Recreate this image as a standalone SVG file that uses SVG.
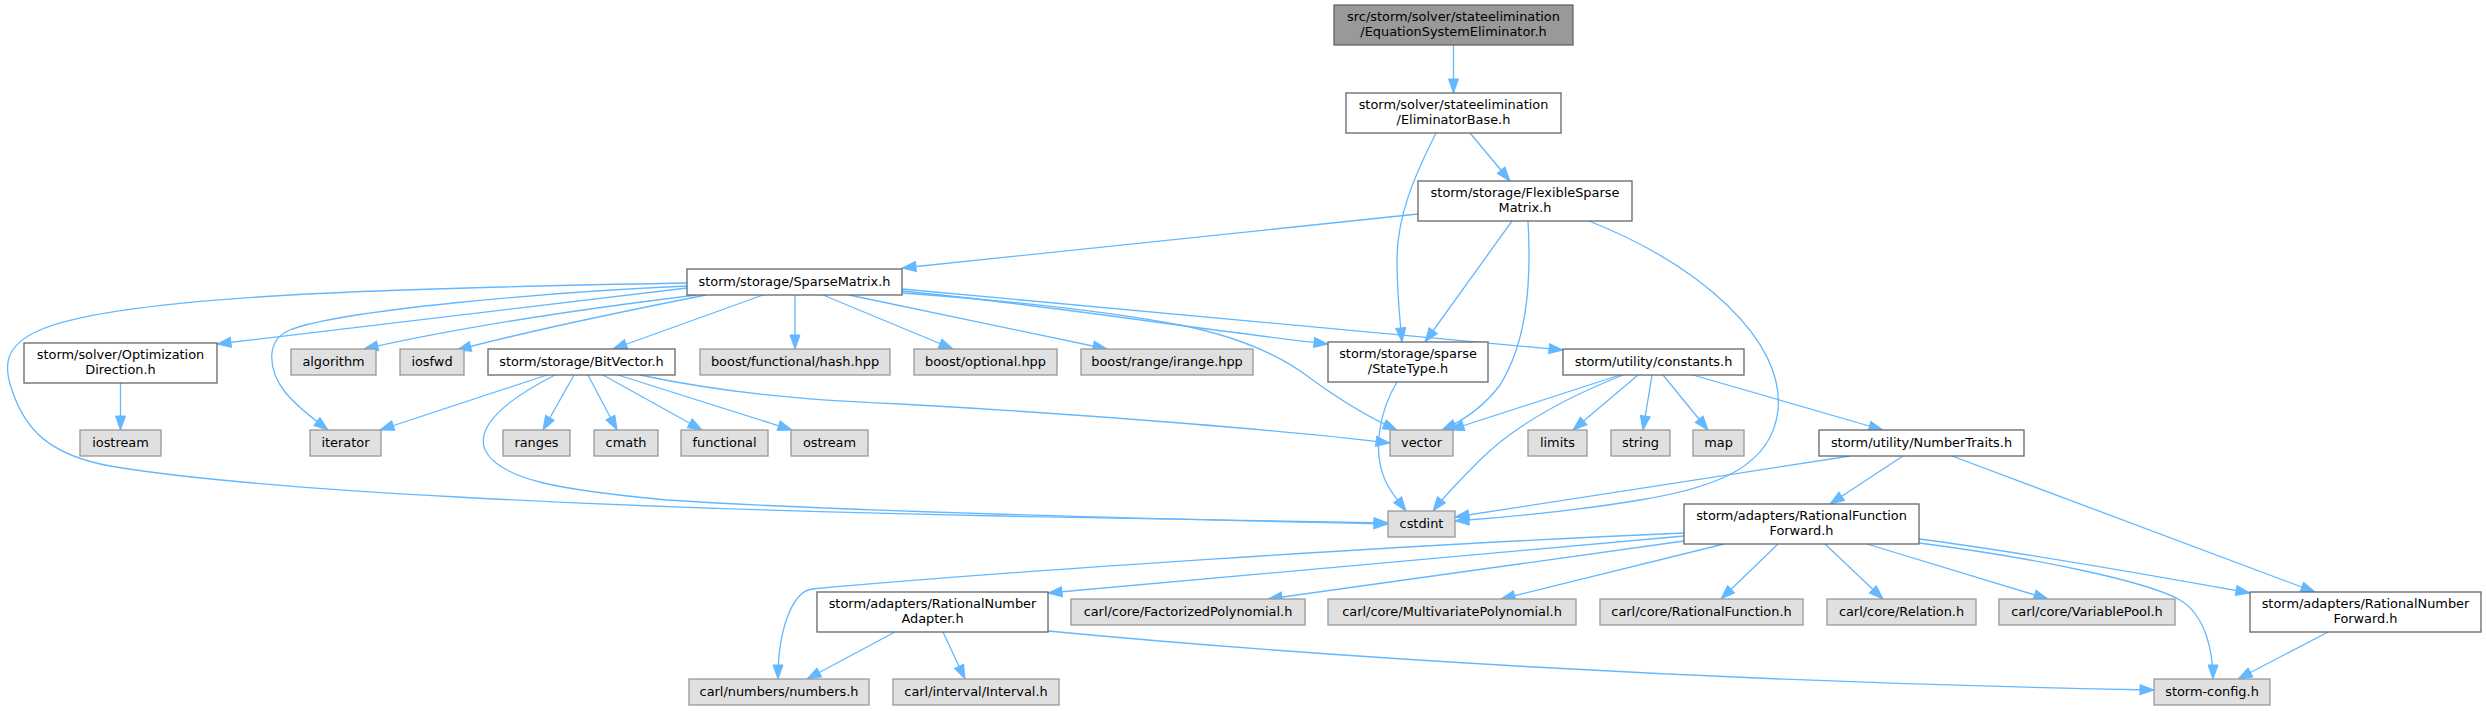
<svg xmlns="http://www.w3.org/2000/svg" width="2486" height="711" viewBox="0 0 2486 711">
<style>
.e{fill:none;stroke:#63b8ff;stroke-width:1.3;marker-end:url(#a)}
.w rect{fill:#ffffff;stroke:#666666;stroke-width:1.3}
.g rect{fill:#e0e0e0;stroke:#999999;stroke-width:1.3}
.t rect{fill:#999999;stroke:#666666;stroke-width:1.3}
text{font-family:"DejaVu Sans","Liberation Sans",sans-serif;font-size:12.9px;text-anchor:middle;fill:#000000}
</style>
<defs>
<marker id="a" markerUnits="userSpaceOnUse" markerWidth="16" markerHeight="12" refX="14" refY="5" orient="auto" overflow="visible">
<path d="M0,0 L14,5 L0,10 z" fill="#63b8ff" stroke="#63b8ff" stroke-width="1"/>
</marker>
</defs>
<rect width="2486" height="711" fill="#ffffff"/>
<g id="edges">
<path class="e" d="M1453.5,45 L1453.5,93"/>
<path class="e" d="M1470,133 L1510,181"/>
<path class="e" d="M1436,133 C1415,175 1397,215 1397,260 C1397,295 1400,320 1402,342"/>
<path class="e" d="M1418,214 L902,268"/>
<path class="e" d="M1512,221 L1425,342"/>
<path class="e" d="M1528,221 C1532,290 1525,345 1500,385 C1485,405 1465,420 1442,430"/>
<path class="e" d="M1589,221 C1700,265 1785,340 1778,410 C1772,465 1720,487 1640,500 C1580,510 1510,517 1455,521"/>
<path class="e" d="M687,288 L217,344"/>
<path class="e" d="M697,295 C590,308 470,325 364,349"/>
<path class="e" d="M706,295 C630,310 540,328 457,350"/>
<path class="e" d="M763,295 L613,349"/>
<path class="e" d="M795,295 L795,349"/>
<path class="e" d="M823,295 L953,349"/>
<path class="e" d="M849,295 L1107,349"/>
<path class="e" d="M902,291 C1050,305 1200,330 1328,344"/>
<path class="e" d="M902,289 L1563,350"/>
<path class="e" d="M902,293 C1000,300 1100,310 1180,325 C1240,337 1280,355 1310,378 C1340,400 1370,418 1397,430"/>
<path class="e" d="M687,286 C550,292 340,310 290,330 C265,340 268,370 285,392 C298,408 315,420 328,430"/>
<path class="e" d="M687,283 C400,288 120,295 40,330 C5,345 3,365 12,390 C25,430 50,455 110,466 C250,490 600,508 1000,516 C1200,520 1320,522 1388,523"/>
<path class="e" d="M120.5,383 L120.5,430"/>
<path class="e" d="M547,375 L380,430"/>
<path class="e" d="M574,375 L543,430"/>
<path class="e" d="M588,375 L617,430"/>
<path class="e" d="M603,375 L702,430"/>
<path class="e" d="M618,375 L792,430"/>
<path class="e" d="M640,375 C720,392 800,400 900,404 C1100,415 1300,432 1390,443"/>
<path class="e" d="M555,375 C510,398 475,425 485,450 C500,480 560,490 667,500 C850,512 1150,519 1388,524"/>
<path class="e" d="M1397,382 C1380,410 1372,450 1385,480 C1392,495 1400,503 1406,511"/>
<path class="e" d="M1620,375 L1450,430"/>
<path class="e" d="M1623,375 C1560,400 1510,430 1480,460 C1460,480 1445,495 1433,511"/>
<path class="e" d="M1638,375 L1573,430"/>
<path class="e" d="M1652,375 L1643,430"/>
<path class="e" d="M1663,375 L1708,430"/>
<path class="e" d="M1693,375 L1883,430"/>
<path class="e" d="M1850,456 L1455,517"/>
<path class="e" d="M1903,456 L1830,504"/>
<path class="e" d="M1952,456 L2315,592"/>
<path class="e" d="M1684,536 L1048,593"/>
<path class="e" d="M1684,533 C1400,545 1000,572 812,589 C792,592 778,630 778,679"/>
<path class="e" d="M1684,541 L1268,599"/>
<path class="e" d="M1724,544 L1501,599"/>
<path class="e" d="M1778,544 L1721,599"/>
<path class="e" d="M1825,544 L1883,599"/>
<path class="e" d="M1867,544 L2048,599"/>
<path class="e" d="M1919,543 C2050,560 2150,583 2180,600 C2205,615 2213,650 2213,679"/>
<path class="e" d="M1919,539 C2020,552 2150,575 2250,593"/>
<path class="e" d="M895,632 L807,679"/>
<path class="e" d="M943,632 L965,679"/>
<path class="e" d="M1048,631 C1300,655 1700,682 2154,690"/>
<path class="e" d="M2328,632 L2238,679"/>
</g>
<g id="n0" class="t"><rect x="1334" y="5" width="239" height="40"/><text x="1453.5" y="21">src/storm/solver/stateelimination</text><text x="1453.5" y="36">/EquationSystemEliminator.h</text></g>
<g id="n1" class="w"><rect x="1346" y="93" width="215" height="40"/><text x="1453.5" y="109">storm/solver/stateelimination</text><text x="1453.5" y="124">/EliminatorBase.h</text></g>
<g id="n2" class="w"><rect x="1418" y="181" width="214" height="40"/><text x="1525" y="197">storm/storage/FlexibleSparse</text><text x="1525" y="212">Matrix.h</text></g>
<g id="n3" class="w"><rect x="687" y="269" width="215" height="26"/><text x="794.5" y="285.5">storm/storage/SparseMatrix.h</text></g>
<g id="n4" class="w"><rect x="24" y="343" width="193" height="40"/><text x="120.5" y="359">storm/solver/Optimization</text><text x="120.5" y="374">Direction.h</text></g>
<g id="n5" class="g"><rect x="291" y="349" width="85" height="26"/><text x="333.5" y="365.5">algorithm</text></g>
<g id="n6" class="g"><rect x="400" y="349" width="64" height="26"/><text x="432" y="365.5">iosfwd</text></g>
<g id="n7" class="w"><rect x="488" y="349" width="187" height="26"/><text x="581.5" y="365.5">storm/storage/BitVector.h</text></g>
<g id="n8" class="g"><rect x="700" y="349" width="190" height="26"/><text x="795" y="365.5">boost/functional/hash.hpp</text></g>
<g id="n9" class="g"><rect x="914" y="349" width="143" height="26"/><text x="985.5" y="365.5">boost/optional.hpp</text></g>
<g id="n10" class="g"><rect x="1081" y="349" width="172" height="26"/><text x="1167" y="365.5">boost/range/irange.hpp</text></g>
<g id="n11" class="w"><rect x="1328" y="342" width="160" height="40"/><text x="1408" y="358">storm/storage/sparse</text><text x="1408" y="373">/StateType.h</text></g>
<g id="n12" class="w"><rect x="1563" y="349" width="181" height="26"/><text x="1653.5" y="365.5">storm/utility/constants.h</text></g>
<g id="n13" class="g"><rect x="80" y="430" width="81" height="26"/><text x="120.5" y="446.5">iostream</text></g>
<g id="n14" class="g"><rect x="310" y="430" width="71" height="26"/><text x="345.5" y="446.5">iterator</text></g>
<g id="n15" class="g"><rect x="503" y="430" width="67" height="26"/><text x="536.5" y="446.5">ranges</text></g>
<g id="n16" class="g"><rect x="594" y="430" width="64" height="26"/><text x="626" y="446.5">cmath</text></g>
<g id="n17" class="g"><rect x="681" y="430" width="87" height="26"/><text x="724.5" y="446.5">functional</text></g>
<g id="n18" class="g"><rect x="791" y="430" width="77" height="26"/><text x="829.5" y="446.5">ostream</text></g>
<g id="n19" class="g"><rect x="1390" y="430" width="63" height="26"/><text x="1421.5" y="446.5">vector</text></g>
<g id="n20" class="g"><rect x="1528" y="430" width="59" height="26"/><text x="1557.5" y="446.5">limits</text></g>
<g id="n21" class="g"><rect x="1611" y="430" width="59" height="26"/><text x="1640.5" y="446.5">string</text></g>
<g id="n22" class="g"><rect x="1693" y="430" width="51" height="26"/><text x="1718.5" y="446.5">map</text></g>
<g id="n23" class="w"><rect x="1819" y="430" width="205" height="26"/><text x="1921.5" y="446.5">storm/utility/NumberTraits.h</text></g>
<g id="n24" class="g"><rect x="1388" y="511" width="67" height="26"/><text x="1421.5" y="527.5">cstdint</text></g>
<g id="n25" class="w"><rect x="1684" y="504" width="235" height="40"/><text x="1801.5" y="520">storm/adapters/RationalFunction</text><text x="1801.5" y="535">Forward.h</text></g>
<g id="n26" class="w"><rect x="817" y="592" width="231" height="40"/><text x="932.5" y="608">storm/adapters/RationalNumber</text><text x="932.5" y="623">Adapter.h</text></g>
<g id="n27" class="g"><rect x="1071" y="599" width="234" height="26"/><text x="1188" y="615.5">carl/core/FactorizedPolynomial.h</text></g>
<g id="n28" class="g"><rect x="1328" y="599" width="248" height="26"/><text x="1452" y="615.5">carl/core/MultivariatePolynomial.h</text></g>
<g id="n29" class="g"><rect x="1600" y="599" width="203" height="26"/><text x="1701.5" y="615.5">carl/core/RationalFunction.h</text></g>
<g id="n30" class="g"><rect x="1827" y="599" width="149" height="26"/><text x="1901.5" y="615.5">carl/core/Relation.h</text></g>
<g id="n31" class="g"><rect x="1999" y="599" width="176" height="26"/><text x="2087" y="615.5">carl/core/VariablePool.h</text></g>
<g id="n32" class="w"><rect x="2250" y="592" width="231" height="40"/><text x="2365.5" y="608">storm/adapters/RationalNumber</text><text x="2365.5" y="623">Forward.h</text></g>
<g id="n33" class="g"><rect x="689" y="679" width="180" height="26"/><text x="779" y="695.5">carl/numbers/numbers.h</text></g>
<g id="n34" class="g"><rect x="893" y="679" width="166" height="26"/><text x="976" y="695.5">carl/interval/Interval.h</text></g>
<g id="n35" class="g"><rect x="2154" y="679" width="116" height="26"/><text x="2212" y="695.5">storm-config.h</text></g>
</svg>
